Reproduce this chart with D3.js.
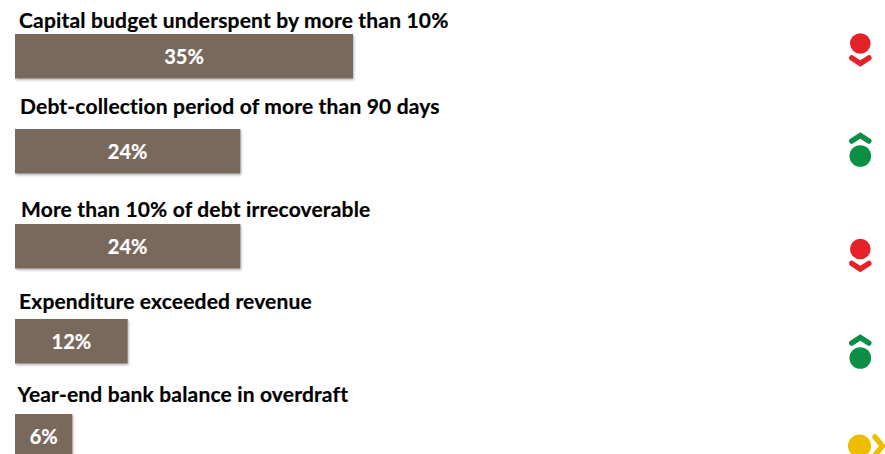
<!DOCTYPE html>
<html><head><meta charset="utf-8">
<script src="https://cdn.jsdelivr.net/npm/d3@7/dist/d3.min.js"></script>
<style>html,body{margin:0;padding:0;background:#fff;overflow:hidden}svg{display:block}</style>
</head><body><svg id="c" width="885" height="454"></svg>
<script>
const categories = ["Capital budget underspent by more than 10%","Debt-collection period of more than 90 days","More than 10% of debt irrecoverable","Expenditure exceeded revenue","Year-end bank balance in overdraft"];
const values = [35.4, 23.6, 23.6, 11.8, 6];
const trends = ["down","up","down","up","flat"];

const titleX = [19,20,21,19,17.5];
const titleY = [28,114,217,309,402];
const iconY = [43.5,156,249,358,446];
const colors = {down:"#e52229", up:"#0b8f45", flat:"#eebd00"};

const svg = d3.select("#c");
const defs = svg.append("defs");
const f = defs.append("filter").attr("id","s").attr("x","-5%").attr("y","-10%").attr("width","110%").attr("height","125%");
f.append("feDropShadow").attr("dx",1).attr("dy",1.5).attr("stdDeviation",1.2).attr("flood-color","#000").attr("flood-opacity",0.3);

const x = d3.scaleLinear().domain([0,35.4]).range([15,353]);
const y = d3.scalePoint().domain(categories).range([34,414]);
const font = "Lato, Carlito, sans-serif";

const rows = svg.selectAll("g.row").data(categories).join("g").attr("class","row");
rows.append("rect").attr("x",x(0)).attr("y",d=>y(d)).attr("height",44.5)
  .attr("width",(d,i)=>x(values[i])-x(0)).attr("fill","#79695d").attr("filter","url(#s)");
rows.append("text").attr("x",(d,i)=>(x(0)+x(values[i]))/2).attr("y",d=>y(d)+30)
  .attr("text-anchor","middle").attr("fill","#fff").attr("font-family",font).attr("font-weight",700).attr("font-size",20)
  .attr("stroke","#fff").attr("stroke-width",0.2)
  .text((d,i)=>d3.format(".0f")(values[i])+"%");
rows.append("text").attr("x",(d,i)=>titleX[i]).attr("y",(d,i)=>titleY[i])
  .attr("fill","#000").attr("font-family",font).attr("font-weight",700).attr("font-size",21)
  .attr("letter-spacing",0.17).attr("stroke","#000").attr("stroke-width",0.2)
  .text(d=>d);

const icons = svg.selectAll("g.icon").data(trends).join("g").attr("class","icon")
  .attr("transform",(d,i)=>`translate(${d==="flat"?859.5:860.3},${iconY[i]})`);
icons.append("circle").attr("r",d=>d==="down"?10.3:d==="up"?10.8:11.5).attr("fill",d=>colors[d]);
const chevron = {down:"M-8.5,14.5 L0,20 L8.5,14.5", up:"M-8.5,-15 L0,-20.5 L8.5,-15", flat:"M15.5,-9 L23,0 L15.5,9"};
icons.append("path").attr("d",d=>chevron[d]).attr("fill","none").attr("stroke",d=>colors[d])
  .attr("stroke-width",5.5).attr("stroke-linecap","round").attr("stroke-linejoin","miter");
</script></body></html>
